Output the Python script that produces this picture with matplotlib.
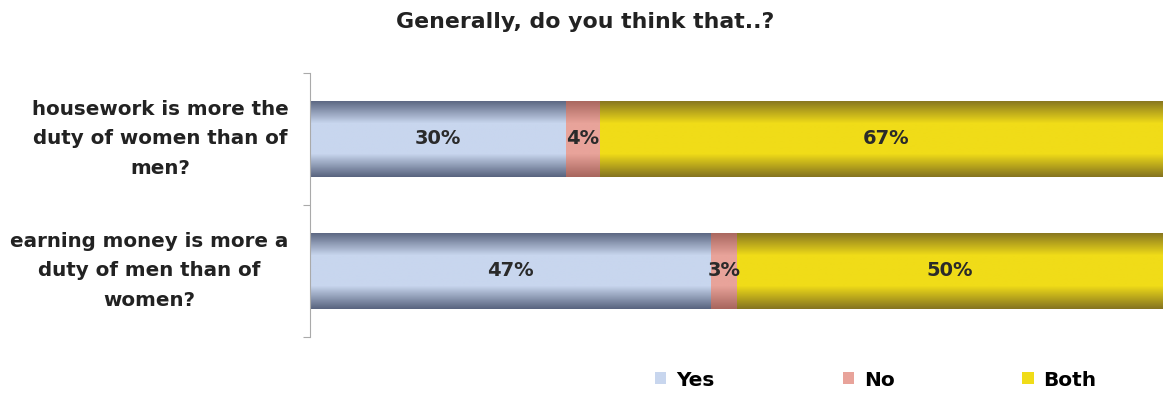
import numpy as np
import matplotlib.pyplot as plt
from matplotlib.colors import LinearSegmentedColormap
from matplotlib.patches import Patch

plt.rcParams['font.family'] = ['DejaVu Sans']

categories = ['housework is more the\nduty of women than of\nmen?',
              'earning money is more a\nduty of men than of\nwomen?']
series = ['Yes', 'No', 'Both']
yes = [30, 47]
no = [4, 3]
both = [67, 50]
values = [yes, no, both]

# light middle / dark edge for the shaded look
light = ['#c8d6ee', '#e8a39a', '#f0dc18']
dark = ['#5a6580', '#a8665e', '#867520']

fig = plt.figure(figsize=(11.63, 3.94), dpi=100)
ax = fig.add_axes([310/1163, 1 - 337/394, 1 - 310/1163, 264/394])

ypos = np.arange(len(categories))
left = np.zeros(len(categories))
grad = np.abs(np.linspace(-1, 1, 64))[:, None]
for vals, c1, c2 in zip(values, light, dark):
    bars = ax.barh(ypos, vals, left=left, height=0.58, color=c1, linewidth=0)
    cmap = LinearSegmentedColormap.from_list('g', [(0, c1), (0.4, c1), (1, c2)])
    for b, v, l in zip(bars, vals, left):
        x0, y0 = b.get_x(), b.get_y()
        im = ax.imshow(grad, cmap=cmap, vmin=0, vmax=1, aspect='auto',
                       extent=(x0, x0 + b.get_width(), y0, y0 + b.get_height()),
                       interpolation='bilinear', zorder=2)
        im.set_clip_path(b)
        ax.text(l + v / 2, b.get_y() + b.get_height() / 2, f'{v}%',
                ha='center', va='center', fontsize=14, fontweight='bold',
                color='#2a2a2a', zorder=3)
    left = left + np.array(vals)

ax.set_xlim(0, 100)
ax.set_ylim(len(categories) - 0.5, -0.5)
ax.set_yticks([-0.5, 0.5, 1.5])
ax.set_yticklabels([])
ax.tick_params(axis='y', length=5, color='#aaaaaa', direction='out')
ax.set_xticks([])
for s in ['top', 'right', 'bottom']:
    ax.spines[s].set_visible(False)
ax.spines['left'].set_color('#aaaaaa')

for y, cat in zip(ypos, categories):
    ax.text(-0.025, y, cat, transform=ax.get_yaxis_transform(), ha='right',
            va='center', multialignment='center', fontsize=14.3,
            fontweight='bold', color='#222222', linespacing=1.7)

fig.text(585/1163, 1 - 22/394, 'Generally, do you think that..?', ha='center',
         va='center', fontsize=15.8, fontweight='bold', color='#222222')

handles = [Patch(facecolor=c, edgecolor='none') for c in light]
fig.legend(handles, series, loc='center', bbox_to_anchor=(876/1163, 1 - 380/394),
           ncol=3, frameon=False, columnspacing=6.35, handlelength=0.55,
           handleheight=0.55, handletextpad=0.5,
           prop={'weight': 'bold', 'size': 14.5})

fig.savefig('out.png', dpi=100)
